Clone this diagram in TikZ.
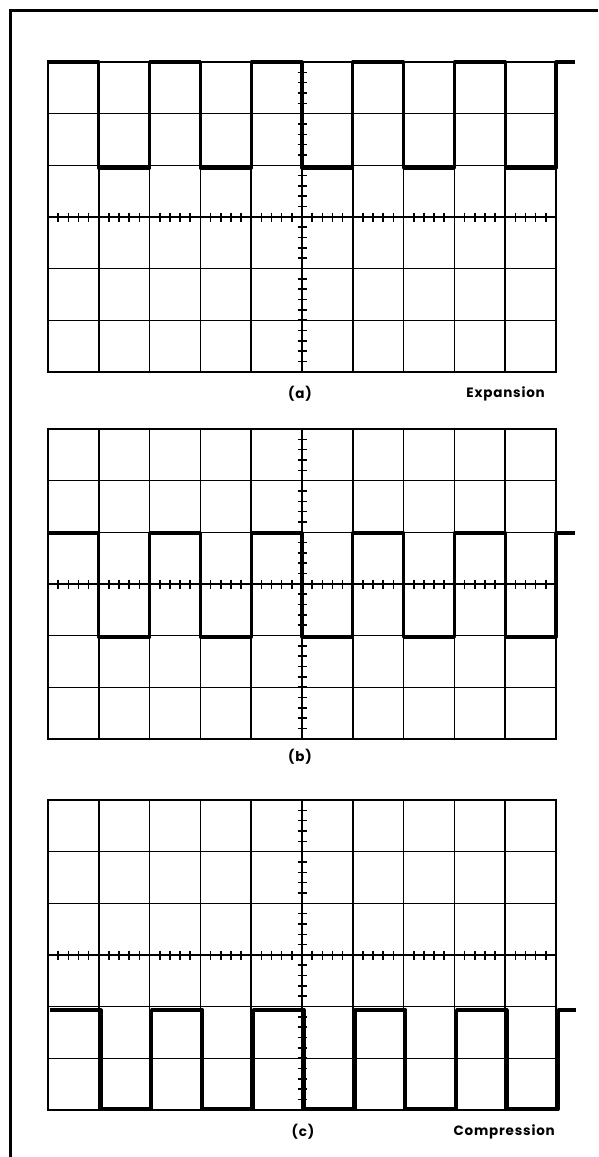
\documentclass[tikz,border=0pt]{standalone}
\usepackage{fontspec}
\setmainfont{Poppins}[LetterSpace=6]
\usetikzlibrary{positioning}

\begin{document}
\begin{tikzpicture}[x=1pt, y=-1pt,
  gridline/.style={line width=1.6pt},
  border/.style={line width=2.3pt},
  ticks/.style={line width=1.6pt},
  trace/.style={line width=3.2pt, line join=round},
  frameline/.style={line width=3pt},
  caption/.style={font=\fontsize{13.5}{15}\selectfont\bfseries, inner sep=0pt}
]
\useasboundingbox (0,0) rectangle (598,1157);
% outer frame
\draw[frameline] (10,1157) -- (10,10) -- (598,10);

% three graticules, given by their top edge
\foreach \top in {62,429,800} {
  \foreach \i in {1,...,9}
    \draw[gridline] ({48+50.8*\i},\top) -- ({48+50.8*\i},\top+310);
  \foreach \j in {1,...,5}
    \draw[gridline] (48,{\top+51.67*\j}) -- (556,{\top+51.67*\j});
  \draw[border] (48,\top) rectangle (556,\top+310);
  % minor ticks on the centre axes
  \foreach \k in {1,...,49}
    \draw[ticks] ({48+10.16*\k},\top+150.5) -- ({48+10.16*\k},\top+159.5);
  \foreach \k in {1,...,29}
    \draw[ticks] (297.5,{\top+10.33*\k}) -- (306.5,{\top+10.33*\k});
}

% traces
\draw[trace] (47,62) foreach \p in {0,...,4} {
  -- ({98.8+101.6*\p},62) -- ++(0,106) -- ++(50.8,0) -- ++(0,-106) } -- (575,62);
\draw[trace] (47,533) foreach \p in {0,...,4} {
  -- ({98.8+101.6*\p},533) -- ++(0,104) -- ++(50.8,0) -- ++(0,-104) } -- (575,533);
\draw[trace] (50,1010) foreach \p in {0,...,4} {
  -- ({101+101.6*\p},1010) -- ++(0,99) -- ++(50.8,0) -- ++(0,-99) } -- (576,1010);

% captions
\node[caption] (capa) at (300,394) {(a)};
\node[caption, anchor=east] (expa) at (545,394) {Expansion};
\node[caption] (capb) at (300,757) {(b)};
\node[caption] (capc) at (303,1132) {(c)};
\node[caption, anchor=east] (compc) at (555,1132) {Compression};
\end{tikzpicture}
\end{document}
